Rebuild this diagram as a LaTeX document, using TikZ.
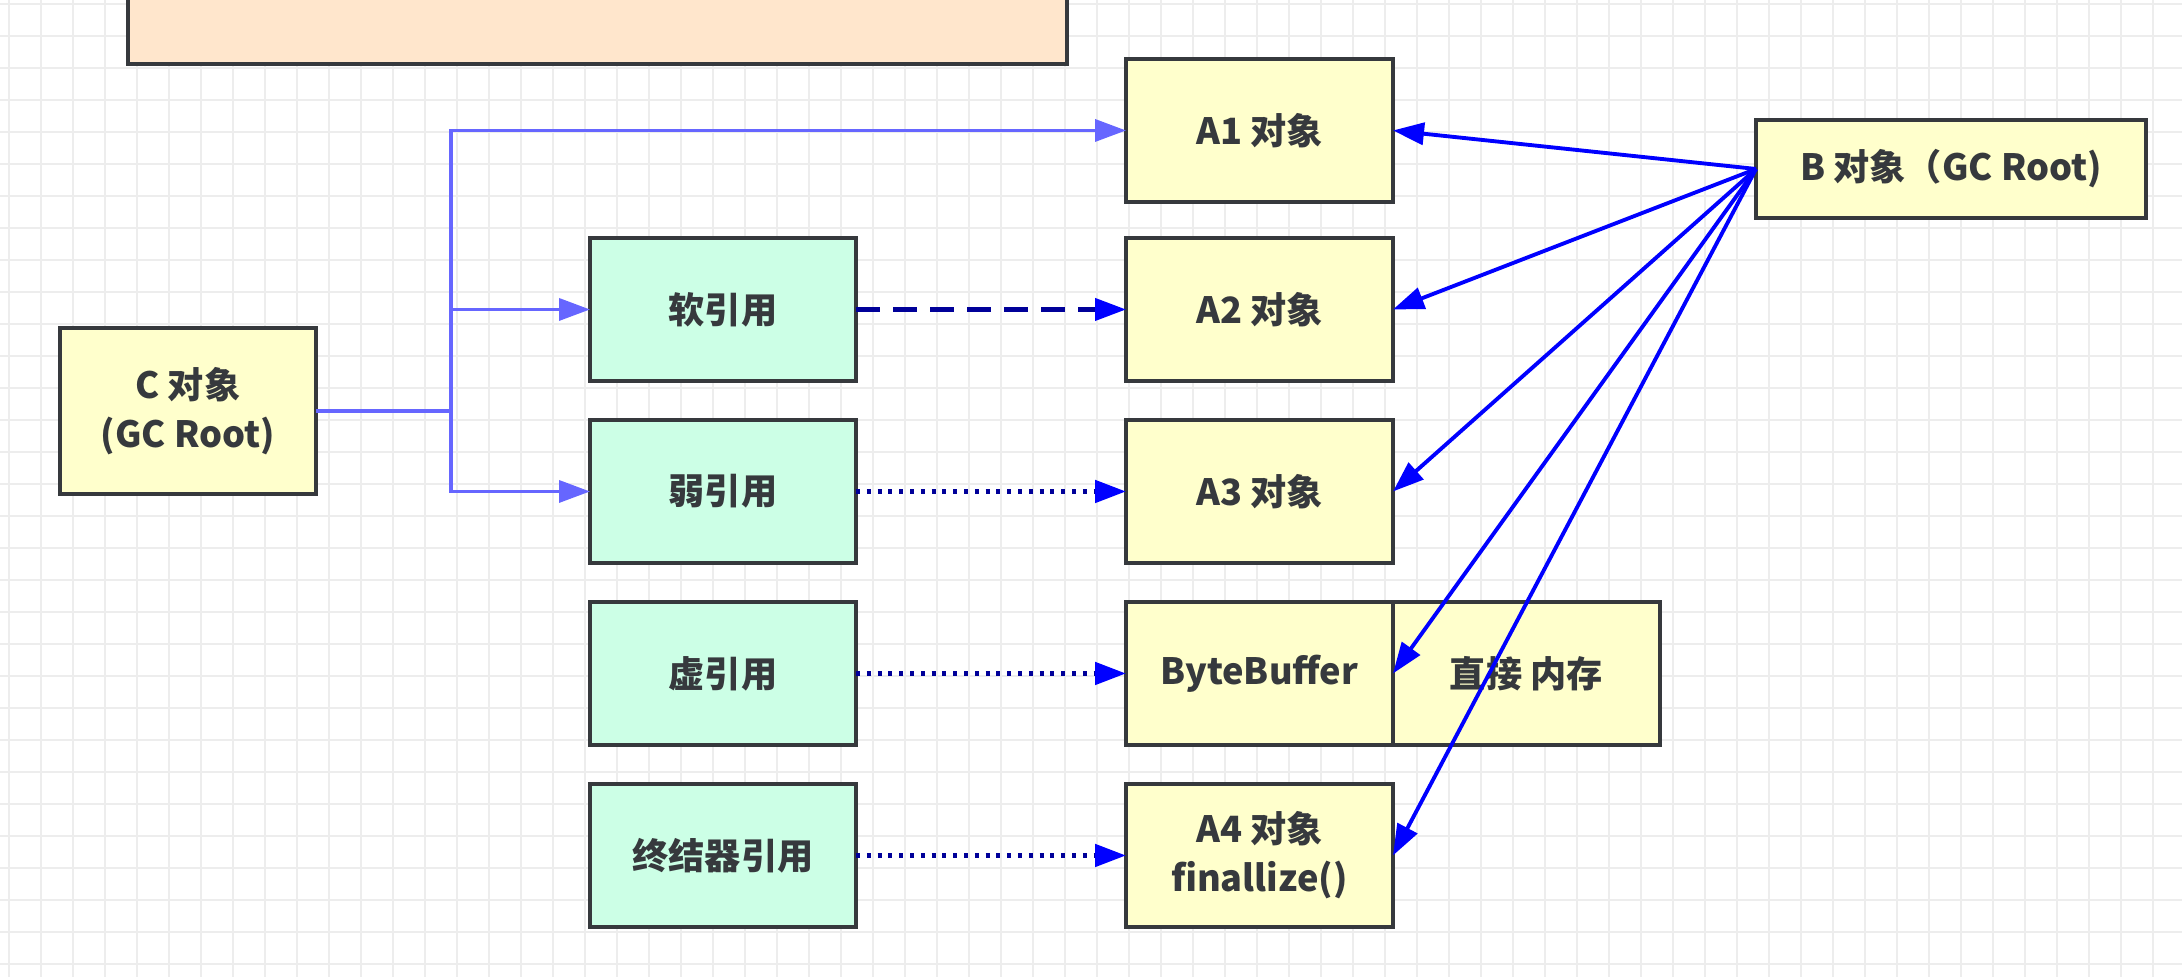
\documentclass[tikz,border=0pt]{standalone}
\usepackage{fontspec}
\setmainfont{Noto Sans CJK SC}
\usepackage{tikz}
\usetikzlibrary{arrows.meta, positioning, calc}
\definecolor{objfill}{HTML}{FFFFCC}
\definecolor{reffill}{HTML}{CCFFE6}
\definecolor{notefill}{HTML}{FFE6CC}
\definecolor{edge}{HTML}{36393D}
\definecolor{gridgray}{HTML}{EDEDED}
\definecolor{rootlink}{HTML}{6666FF}
\definecolor{stronglink}{HTML}{0000FF}
\definecolor{weaklink}{HTML}{000099}
\tikzset{
    objbox/.style={
        rectangle, draw=edge, fill=objfill, line width=0.9pt, align=center,
        minimum width=2.67cm, minimum height=1.43cm, inner sep=0pt, outer sep=0pt,
        font=\bfseries\fontsize{10.3}{14}\selectfont, text=edge
    },
    refbox/.style={
        objbox, fill=reffill, minimum width=2.66cm
    },
    gridline/.style={
        draw=gridgray, line width=0.6pt
    },
    rootline/.style={
        -{Triangle[length=3.1mm, width=2.2mm]}, line width=1pt, draw=rootlink
    },
    strongline/.style={
        -{Triangle[length=3.1mm, width=2.2mm]}, line width=1.1pt, draw=stronglink
    },
    softline/.style={
        -{Triangle[length=3.1mm, width=2.2mm, color=stronglink]}, line width=1.2pt,
        draw=weaklink, dash pattern=on 2.4mm off 1.3mm
    },
    weakline/.style={
        -{Triangle[length=3.1mm, width=2.2mm, color=stronglink]}, line width=1.4pt,
        draw=weaklink, dash pattern=on 0.4mm off 0.68mm
    }
}

\begin{document}
\begin{tikzpicture}[node distance=0.39cm and 2.7cm]
    \useasboundingbox (0,0) rectangle (21.82,9.77);
    \clip (0,0) rectangle (21.82,9.77);
    \fill[white] (0,0) rectangle (21.82,9.77);
    \foreach \gx in {0,...,68}
        \draw[gridline] ({0.09+0.32*\gx},0) -- ++(0,9.77);
    \foreach \gy in {0,...,30}
        \draw[gridline] (0,{9.73-0.32*\gy}) -- ++(21.82,0);

    \node[objbox, fill=notefill, minimum width=9.39cm, minimum height=2cm] (note) at (5.975,10.13) {};

    \node[objbox, minimum width=2.56cm, minimum height=1.66cm] (c) at (1.88,5.66) {C 对象\\(GC Root)};
    \node[objbox, minimum width=3.9cm, minimum height=0.98cm] (b) at (19.51,8.08) {B 对象（GC Root)};

    \node[refbox] (soft) at (7.23,6.675) {软引用};
    \node[refbox, below=of soft] (weak) {弱引用};
    \node[refbox, below=of weak] (phantom) {虚引用};
    \node[refbox, below=of phantom] (final) {终结器引用};

    \node[objbox, right=of soft] (a2) {A2 对象};
    \node[objbox, above=0.36cm of a2] (a1) {A1 对象};
    \node[objbox, right=of weak] (a3) {A3 对象};
    \node[objbox, right=of phantom] (bb) {ByteBuffer};
    \node[objbox, right=0pt of bb] (mem) {直接 内存};
    \node[objbox, right=of final] (a4) {A4 对象\\finallize()};

    \coordinate (trunk) at (4.51,5.66);
    \draw[rootline] (c.east) -- (trunk) |- (a1.west);
    \draw[rootline] (trunk) |- (soft.west);
    \draw[rootline] (trunk) |- (weak.west);

    \draw[softline] (soft.east) -- (a2.west);
    \draw[weakline] (weak.east) -- (a3.west);
    \draw[weakline] (phantom.east) -- (bb.west);
    \draw[weakline] (final.east) -- (a4.west);

    \foreach \target in {a1,a2,a3,bb,a4}
        \draw[strongline] (b.west) -- (\target.east);
\end{tikzpicture}
\end{document}
